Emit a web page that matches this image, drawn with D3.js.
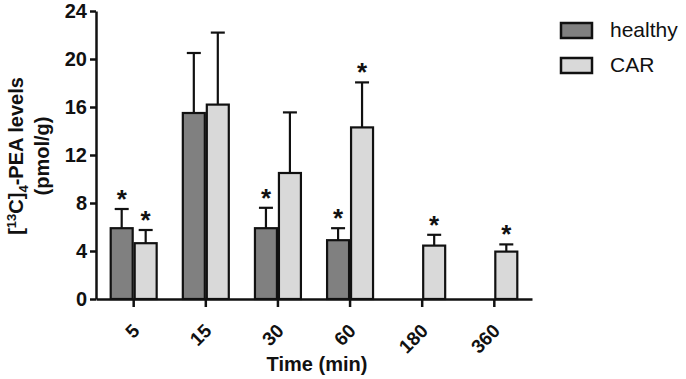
<!DOCTYPE html>
<html>
<head>
<meta charset="utf-8">
<script src="https://cdn.jsdelivr.net/npm/d3@7"></script>
<style>
  body { margin: 0; background: #fff; }
  svg { display: block; font-family: "Liberation Sans", Arial, sans-serif; }
</style>
</head>
<body>
<div id="chart"></div>
<script>
// Data
const times = ["5", "15", "30", "60", "180", "360"];
const groups = ["healthy", "CAR"];
const healthyMean = [5.9, 15.5, 5.9, 4.9, null, null];
const healthyErr = [1.6, 5.0, 1.7, 1.0, null, null];
const carMean = [4.65, 16.2, 10.5, 14.3, 4.45, 3.95];
const carErr = [1.1, 6.0, 5.05, 3.75, 0.9, 0.6];
const healthySig = [true, false, true, true, false, false];
const carSig = [true, false, false, true, true, true];
const yTicks = [0, 4, 8, 12, 16, 20, 24];
const colors = { healthy: "#808080", CAR: "#d9d9d9" };

const width = 686, height = 379;
const margin = { top: 11, right: 154, bottom: 80, left: 96 };

const svg = d3.select("#chart").append("svg")
    .attr("width", width)
    .attr("height", height);

const x = d3.scaleBand()
    .domain(times)
    .range([margin.left, width - margin.right])
    .paddingInner(0.335)
    .paddingOuter(0.19);

const xSub = d3.scaleBand()
    .domain(groups)
    .range([0, x.bandwidth()]);

const y = d3.scaleLinear()
    .domain([0, 24])
    .range([height - margin.bottom, margin.top]);

// build rows for each bar
const rows = [];
times.forEach((t, i) => {
    if (healthyMean[i] != null) rows.push({ t, g: "healthy", v: healthyMean[i], e: healthyErr[i], s: healthySig[i] });
    rows.push({ t, g: "CAR", v: carMean[i], e: carErr[i], s: carSig[i] });
});

const cx = d => x(d.t) + xSub(d.g) + xSub.bandwidth() / 2;

// error bars (drawn first so bar covers the lower part)
const eb = svg.append("g").attr("stroke", "#111").attr("stroke-width", 2.2);
eb.selectAll("line.stem").data(rows).enter().append("line")
    .attr("x1", cx).attr("x2", cx)
    .attr("y1", d => y(d.v)).attr("y2", d => y(d.v + d.e));
eb.selectAll("line.cap").data(rows).enter().append("line")
    .attr("x1", d => cx(d) - 7).attr("x2", d => cx(d) + 7)
    .attr("y1", d => y(d.v + d.e)).attr("y2", d => y(d.v + d.e));

// bars
svg.append("g").selectAll("rect").data(rows).enter().append("rect")
    .attr("x", d => x(d.t) + xSub(d.g) + 1)
    .attr("y", d => y(d.v))
    .attr("width", xSub.bandwidth() - 2)
    .attr("height", d => y(0) - y(d.v))
    .attr("fill", d => colors[d.g])
    .attr("stroke", "#111")
    .attr("stroke-width", 2.2);

// significance asterisks
svg.append("g").selectAll("text").data(rows.filter(d => d.s)).enter().append("text")
    .attr("x", cx)
    .attr("y", d => y(d.v + d.e) - 1)
    .attr("text-anchor", "middle")
    .attr("font-size", 26)
    .attr("font-weight", "bold")
    .attr("fill", "#111")
    .text("*");

// x axis
const xAxis = svg.append("g")
    .attr("transform", `translate(0,${y(0)})`)
    .call(d3.axisBottom(x).tickSize(8).tickSizeOuter(0));
xAxis.select(".domain").attr("stroke", "#111").attr("stroke-width", 2.5);
xAxis.selectAll(".tick line").attr("stroke", "#111").attr("stroke-width", 2.5);
xAxis.selectAll(".tick text")
    .attr("font-size", 19)
    .attr("font-weight", "bold")
    .attr("fill", "#111")
    .attr("text-anchor", "end")
    .attr("dy", 0)
    .attr("y", 0)
    .attr("transform", "translate(7,33) rotate(-45)");

// y axis
const yAxis = svg.append("g")
    .attr("transform", `translate(${margin.left},0)`)
    .call(d3.axisLeft(y).tickValues(yTicks).tickSize(6).tickPadding(3).tickSizeOuter(0));
yAxis.select(".domain").attr("stroke", "#111").attr("stroke-width", 2.5);
yAxis.selectAll(".tick line").attr("stroke", "#111").attr("stroke-width", 2.5);
yAxis.selectAll(".tick text")
    .attr("font-size", 20)
    .attr("font-weight", "bold")
    .attr("fill", "#111");

// axis titles
svg.append("text")
    .attr("x", (margin.left + width - margin.right) / 2 + 3)
    .attr("y", 371)
    .attr("text-anchor", "middle")
    .attr("font-size", 20)
    .attr("font-weight", "bold")
    .attr("fill", "#111")
    .text("Time (min)");

const yTitle = svg.append("text")
    .attr("transform", "translate(0,156) rotate(-90)")
    .attr("text-anchor", "middle")
    .attr("font-size", 20)
    .attr("font-weight", "bold")
    .attr("fill", "#111");
const l1 = yTitle.append("tspan").attr("x", 0).attr("y", 22.5);
l1.append("tspan").text("[");
l1.append("tspan").attr("font-size", 13).attr("dy", -7).text("13");
l1.append("tspan").attr("dy", 7).text("C]");
l1.append("tspan").attr("font-size", 13).attr("dy", 5).text("4");
l1.append("tspan").attr("dy", -5).text("-PEA levels");
yTitle.append("tspan").attr("x", 0).attr("y", 49).text("(pmol/g)");

// legend
const legend = svg.append("g").selectAll("g").data(groups).enter().append("g")
    .attr("transform", (d, i) => `translate(561,${23 + i * 35})`);
legend.append("rect")
    .attr("width", 31).attr("height", 15)
    .attr("fill", d => colors[d])
    .attr("stroke", "#111")
    .attr("stroke-width", 2.5);
legend.append("text")
    .attr("x", 49).attr("y", 14)
    .attr("font-size", 21)
    .attr("fill", "#111")
    .text(d => d);
</script>
</body>
</html>
